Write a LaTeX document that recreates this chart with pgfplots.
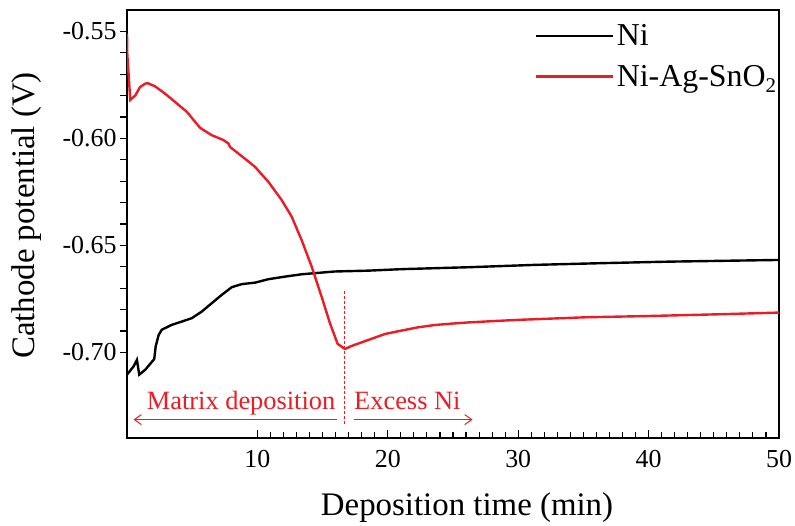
\documentclass[border=0pt]{standalone}
\usepackage{fontspec}
\setmainfont{Liberation Serif}
\usepackage{pgfplots}
\pgfplotsset{compat=1.18}
\usetikzlibrary{arrows.meta}
\definecolor{myred}{RGB}{237,28,36}
\begin{document}
\begin{tikzpicture}
\useasboundingbox (0,0) rectangle (795bp,526bp);
\begin{axis}[
  at={(127bp,88bp)}, anchor=south west,
  scale only axis, width=652bp, height=428bp,
  xmin=0, xmax=50, ymin=-0.74, ymax=-0.54,
  axis line style={line width=1.3bp},
  xtick={10,20,30,40,50}, minor x tick num=9,
  ytick={-0.70,-0.65,-0.60,-0.55}, minor y tick num=4,
  xtick pos=bottom, ytick pos=left,
  tick align=inside,
  major tick length=7.5bp, minor tick length=6bp,
  tick style={line width=1.1bp, black},
  y tick style={xshift=-6.5bp},
  /pgf/number format/assume math mode=true,
  yticklabel style={/pgf/number format/.cd, fixed, fixed zerofill, precision=2, /tikz/.cd, font=\fontsize{26}{30}\selectfont, xshift=-7bp},
  xticklabel style={font=\fontsize{26}{30}\selectfont, yshift=-9bp},
  xlabel={Deposition time (min)},
  ylabel={Cathode potential (V)},
  xlabel style={font=\fontsize{33}{38}\selectfont, at={(axis description cs:0.5215,-0.1636)}, anchor=center},
  ylabel style={font=\fontsize{33}{38}\selectfont, at={(axis description cs:-0.1534,0.52)}, anchor=center},
  legend style={draw=none, fill=none, at={(axis description cs:0.62,0.978)}, anchor=north west,
    font=\fontsize{32}{36}\selectfont, row sep=12bp, nodes={inner sep=3bp}},
  legend cell align=left,
  legend image code/.code={\draw[#1, line width=2.4bp] (0bp,0bp) -- (77bp,0bp);},
]
\addplot[black, line width=2.4bp] coordinates {
(0,-0.7104) (0.5,-0.7066) (0.76,-0.7035) (0.94,-0.7104) (1.4,-0.7081) (2.09,-0.7031)
(2.2,-0.6972) (2.43,-0.6918) (2.67,-0.6894) (3.44,-0.6871) (4.2,-0.6856) (4.97,-0.6840)
(5.74,-0.6809) (6.5,-0.6770) (7.27,-0.6731) (8.04,-0.6695) (8.8,-0.6681) (9.82,-0.6674)
(10.84,-0.6658) (12.1,-0.6646) (13.39,-0.6635) (15.9,-0.6622) (18.5,-0.6618) (21.05,-0.6611)
(26.2,-0.6602) (31.3,-0.6591) (36.4,-0.6583) (41.5,-0.6576) (50,-0.6568)
};
\addlegendentry{Ni}
\addplot[myred, line width=2.4bp] coordinates {
(0,-0.5510) (0.02,-0.5604) (0.25,-0.5820) (0.63,-0.5800) (1.0,-0.5760) (1.4,-0.5744) (1.6,-0.5742)
(2.16,-0.5757) (2.92,-0.5791) (3.69,-0.5830) (4.59,-0.5876) (5.61,-0.5951) (6.5,-0.5985)
(7.4,-0.6008) (7.78,-0.6024) (7.9,-0.6040) (8.8,-0.6083) (9.82,-0.6133) (10.84,-0.6203)
(11.86,-0.6288) (12.63,-0.6366) (13.39,-0.6475) (14.16,-0.6599) (14.92,-0.6739) (15.56,-0.6863)
(16.15,-0.6960) (16.71,-0.6984) (17.22,-0.6970) (18.5,-0.6942) (19.78,-0.6914) (21.05,-0.6898)
(22.3,-0.6883) (23.6,-0.6872) (25.0,-0.6865) (26.16,-0.6860) (28.0,-0.6854) (29.99,-0.6848)
(35.1,-0.6836) (40.0,-0.6830) (45.3,-0.6822) (50,-0.6814)
};
\addlegendentry{Ni-Ag-SnO\raisebox{-0.45ex}{\fontsize{21}{21}\selectfont 2}}
\draw[myred, line width=1bp, dash pattern=on 3bp off 2bp] (axis cs:16.7,-0.6715) -- (axis cs:16.7,-0.7345);
\draw[myred, line width=1bp, -{Straight Barb[length=7bp,width=10bp]}] (axis cs:16.1,-0.7314) -- (axis cs:0.5,-0.7314);
\draw[myred, line width=1bp, -{Straight Barb[length=7bp,width=10bp]}] (axis cs:17.4,-0.7314) -- (axis cs:26.5,-0.7314);
\node[myred, font=\fontsize{26.5}{30}\selectfont, anchor=base] at (axis cs:8.75,-0.7265) {Matrix deposition};
\node[myred, font=\fontsize{26.5}{30}\selectfont, anchor=base] at (axis cs:21.5,-0.7265) {Excess Ni};
\end{axis}
\end{tikzpicture}
\end{document}
